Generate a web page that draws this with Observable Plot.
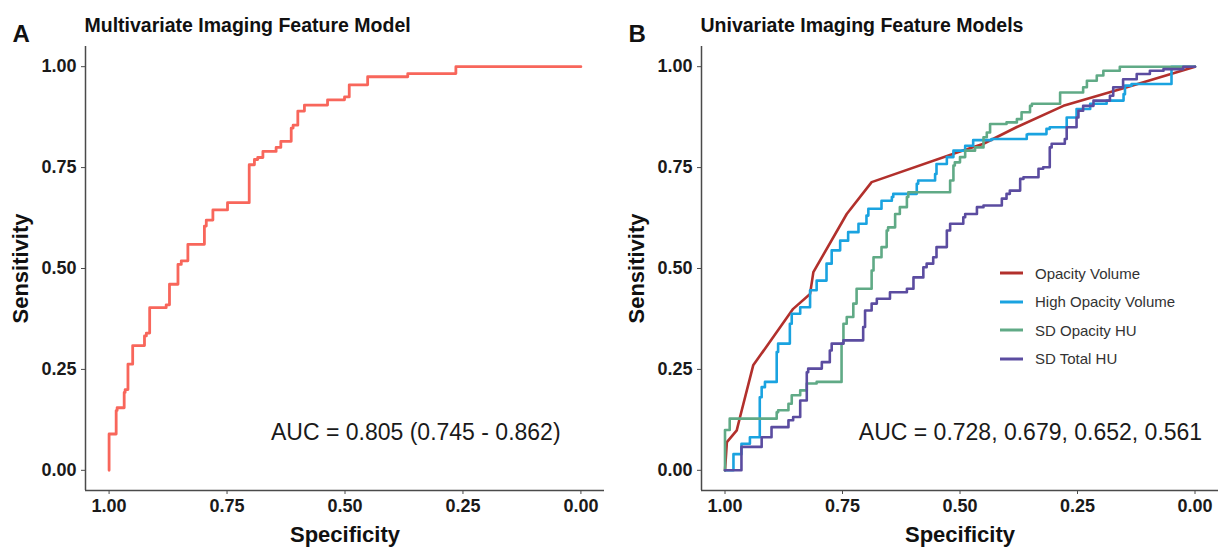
<!DOCTYPE html>
<html><head><meta charset="utf-8">
<script src="https://cdn.jsdelivr.net/npm/d3@7"></script>
<script src="https://cdn.jsdelivr.net/npm/@observablehq/plot@0.6"></script>
<style>
body{margin:0;background:#fff;}
#wrap{position:relative;width:1218px;height:547px;font-family:"Liberation Sans",Arial,sans-serif;}
#panelA{position:absolute;left:0;top:0;}
#panelB{position:absolute;left:609px;top:0;}
#legend{position:absolute;left:1000px;top:259px;font-size:15px;color:#333;}
.item{display:flex;align-items:center;height:28.5px;white-space:nowrap;}
.item svg{margin-right:12px;}
</style></head><body>
<div id="wrap"><div id="panelA"></div><div id="panelB"></div><div id="legend"></div></div>
<script>
// ---- axis ticks / domains ----
const specTicks = [1, 0.75, 0.5, 0.25, 0];
const sensTicks = [0, 0.25, 0.5, 0.75, 1];
const specDomain = [1.05, -0.05];
const sensDomain = [-0.05, 1.05];

// ---- Panel A: multivariate model ROC ----
const multiSpec = [1, 1, 0.985, 0.983, 0.968, 0.966, 0.960, 0.957, 0.950, 0.950, 0.925, 0.921, 0.914, 0.914, 0.879, 0.872, 0.872, 0.854, 0.847, 0.833, 0.829, 0.798, 0.794, 0.780, 0.780, 0.749, 0.735, 0.703, 0.703, 0.692, 0.685, 0.674, 0.674, 0.646, 0.636, 0.636, 0.614, 0.610, 0.600, 0.600, 0.586, 0.586, 0.537, 0.533, 0.501, 0.491, 0.491, 0.452, 0.441, 0.367, 0.363, 0.265, 0.262, 0];
const multiSens = [0, 0.075, 0.09, 0.148, 0.155, 0.193, 0.20, 0.263, 0.263, 0.309, 0.309, 0.333, 0.34, 0.395, 0.403, 0.41, 0.444, 0.461, 0.51, 0.519, 0.56, 0.56, 0.605, 0.62, 0.638, 0.645, 0.663, 0.663, 0.757, 0.757, 0.77, 0.775, 0.79, 0.79, 0.80, 0.815, 0.815, 0.848, 0.855, 0.877, 0.89, 0.905, 0.905, 0.918, 0.918, 0.925, 0.955, 0.955, 0.975, 0.975, 0.983, 0.983, 1.0, 1.0];

// ---- Panel B: univariate model ROCs ----
const opVolSpec = [1, 0.996, 0.975, 0.968, 0.940, 0.855, 0.819, 0.812, 0.741, 0.688, 0.5, 0.450, 0.38, 0.28, 0.145, 0];
const opVolSens = [0, 0.07, 0.099, 0.132, 0.26, 0.40, 0.437, 0.491, 0.635, 0.714, 0.79, 0.809, 0.85, 0.903, 0.949, 1.0];

const highOpSpec = [1, 0.982, 0.982, 0.965, 0.965, 0.947, 0.926, 0.922, 0.915, 0.890, 0.887, 0.862, 0.858, 0.840, 0.819, 0.805, 0.784, 0.773, 0.755, 0.738, 0.716, 0.699, 0.695, 0.667, 0.645, 0.642, 0.592, 0.589, 0.553, 0.550, 0.528, 0.514, 0.489, 0.472, 0.433, 0.358, 0.355, 0.316, 0.309, 0.273, 0.252, 0.223, 0.188, 0.152, 0.149, 0.135, 0.05, 0.05, 0];
const highOpSens = [0, 0, 0.03, 0.04, 0.05, 0.066, 0.082, 0.181, 0.206, 0.219, 0.293, 0.314, 0.363, 0.388, 0.404, 0.446, 0.470, 0.512, 0.545, 0.569, 0.590, 0.611, 0.631, 0.648, 0.668, 0.677, 0.685, 0.710, 0.718, 0.734, 0.759, 0.776, 0.792, 0.804, 0.818, 0.821, 0.832, 0.833, 0.846, 0.850, 0.874, 0.895, 0.908, 0.916, 0.932, 0.953, 0.957, 0.986, 1.0];

const sdOpSpec = [1, 1, 0.99, 0.985, 0.890, 0.887, 0.865, 0.858, 0.840, 0.826, 0.805, 0.752, 0.748, 0.741, 0.727, 0.720, 0.688, 0.684, 0.667, 0.656, 0.653, 0.638, 0.628, 0.613, 0.610, 0.599, 0.521, 0.514, 0.511, 0.5, 0.489, 0.468, 0.450, 0.443, 0.436, 0.401, 0.379, 0.369, 0.351, 0.347, 0.337, 0.287, 0.280, 0.238, 0.230, 0.209, 0.195, 0.187, 0.160, 0.153, 0];
const sdOpSens = [0, 0.08, 0.10, 0.128, 0.128, 0.144, 0.149, 0.165, 0.186, 0.198, 0.215, 0.219, 0.314, 0.363, 0.380, 0.413, 0.450, 0.495, 0.528, 0.553, 0.594, 0.602, 0.635, 0.652, 0.677, 0.689, 0.689, 0.718, 0.755, 0.763, 0.776, 0.792, 0.800, 0.825, 0.837, 0.858, 0.862, 0.870, 0.887, 0.903, 0.908, 0.908, 0.936, 0.936, 0.949, 0.965, 0.978, 0.990, 0.990, 1.0, 1.0];

const sdTotSpec = [1, 0.965, 0.965, 0.922, 0.901, 0.865, 0.855, 0.840, 0.826, 0.823, 0.794, 0.777, 0.773, 0.748, 0.706, 0.702, 0.688, 0.677, 0.649, 0.613, 0.599, 0.578, 0.571, 0.557, 0.550, 0.528, 0.521, 0.493, 0.489, 0.464, 0.450, 0.411, 0.401, 0.394, 0.372, 0.365, 0.333, 0.323, 0.309, 0.305, 0.277, 0.273, 0.252, 0.248, 0.238, 0.216, 0.181, 0.174, 0.153, 0.124, 0.096, 0.067, 0.025, 0];
const sdTotSens = [0, 0, 0.054, 0.058, 0.082, 0.107, 0.124, 0.132, 0.173, 0.243, 0.252, 0.268, 0.297, 0.314, 0.322, 0.355, 0.396, 0.413, 0.425, 0.441, 0.450, 0.478, 0.503, 0.512, 0.528, 0.553, 0.594, 0.611, 0.627, 0.635, 0.652, 0.656, 0.673, 0.685, 0.693, 0.722, 0.726, 0.747, 0.751, 0.800, 0.809, 0.821, 0.850, 0.874, 0.891, 0.903, 0.916, 0.928, 0.949, 0.969, 0.982, 0.990, 0.994, 1.0];

// ---- labels / colours ----
const seriesNames = ["Opacity Volume", "High Opacity Volume", "SD Opacity HU", "SD Total HU"];
const seriesColors = ["#B2302C", "#1AA3E0", "#60AA86", "#5B4CA0"];
const multiColor = "#F8665B";
const panelLetters = ["A", "B"];
const panelTitles = ["Multivariate Imaging Feature Model", "Univariate Imaging Feature Models"];
const xLabel = "Specificity";
const yLabel = "Sensitivity";
const aucTexts = ["AUC = 0.805 (0.745 - 0.862)", "AUC = 0.728, 0.679, 0.652, 0.561"];
const aucSpec = 0.35, aucSens = 0.094;

const FONT = '"Liberation Sans", Arial, sans-serif';
const rows = (spec, sens, name) => spec.map((s, i) => ({spec: s, sens: sens[i], name}));

function panel(opts) {
  const {width, marginLeft, marginRight, marks, letter, title, auc} = opts;
  return Plot.plot({
    width, height: 547, marginLeft, marginRight, marginTop: 46, marginBottom: 57,
    x: {domain: specDomain},
    y: {domain: sensDomain},
    style: {fontFamily: FONT, overflow: "visible", background: "transparent"},
    marks: [
      Plot.ruleX([specDomain[0]], {stroke: "#4a4a4a", strokeWidth: 1.5}),
      Plot.ruleY([sensDomain[0]], {stroke: "#4a4a4a", strokeWidth: 1.5}),
      Plot.axisX({ticks: specTicks, tickFormat: d3.format(".2f"), tickSize: 4, tickPadding: 5,
        fontSize: 18, fontWeight: "bold", fill: "#1a1a1a", stroke: "#4a4a4a", label: null}),
      Plot.axisY({ticks: sensTicks, tickFormat: d3.format(".2f"), tickSize: 4, tickPadding: 5,
        fontSize: 18, fontWeight: "bold", fill: "#1a1a1a", stroke: "#4a4a4a", label: null}),
      ...marks,
      Plot.text([auc], {text: d => d, x: aucSpec, y: aucSens, textAnchor: "middle", lineAnchor: "middle",
        fontSize: 23, fill: "#1a1a1a"}),
      Plot.text([letter], {text: d => d, frameAnchor: "top-left", dx: -73, dy: -5, textAnchor: "start",
        lineAnchor: "bottom", fontSize: 24, fontWeight: "bold", fill: "#111"}),
      Plot.text([title], {text: d => d, frameAnchor: "top-left", dx: -1, dy: -15, textAnchor: "start",
        lineAnchor: "bottom", fontSize: 19.5, fontWeight: "bold", fill: "#111"}),
      Plot.text([xLabel], {text: d => d, frameAnchor: "bottom", dy: 51, textAnchor: "middle", lineAnchor: "bottom",
        fontSize: 22, fontWeight: "bold", fill: "#111"}),
      Plot.text([yLabel], {text: d => d, frameAnchor: "left", dx: -65, rotate: -90, textAnchor: "middle",
        lineAnchor: "middle", fontSize: 22, fontWeight: "bold", fill: "#111"})
    ]
  });
}

const chartA = panel({
  width: 609, marginLeft: 85, marginRight: 5,
  letter: panelLetters[0], title: panelTitles[0], auc: aucTexts[0],
  marks: [
    Plot.line(rows(multiSpec, multiSens, "multi"), {x: "spec", y: "sens", stroke: multiColor,
      strokeWidth: 2.8, curve: "step-before", strokeLinejoin: "round"})
  ]
});
document.getElementById("panelA").appendChild(chartA);

const bSpecs = [opVolSpec, highOpSpec, sdOpSpec, sdTotSpec];
const bSens = [opVolSens, highOpSens, sdOpSens, sdTotSens];
const chartB = panel({
  width: 609, marginLeft: 92, marginRight: 0,
  letter: panelLetters[1], title: panelTitles[1], auc: aucTexts[1],
  marks: seriesNames.map((name, i) =>
    Plot.line(rows(bSpecs[i], bSens[i], name), {x: "spec", y: "sens", stroke: seriesColors[i],
      strokeWidth: 2.6, curve: i === 0 ? "linear" : "step-before", strokeLinejoin: "round"}))
});
document.getElementById("panelB").appendChild(chartB);

// legend
const legend = document.getElementById("legend");
seriesNames.forEach((name, i) => {
  const item = document.createElement("div");
  item.className = "item";
  item.innerHTML = `<svg width="23" height="6"><line x1="0" x2="23" y1="3" y2="3" stroke="${seriesColors[i]}" stroke-width="3"/></svg><span>${name}</span>`;
  legend.appendChild(item);
});
</script></body></html>
